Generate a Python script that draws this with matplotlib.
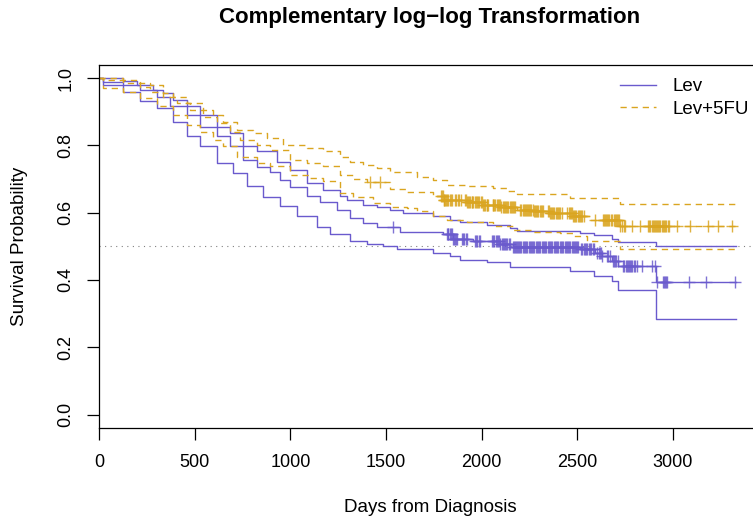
import numpy as np
import matplotlib
matplotlib.use("Agg")
import matplotlib.pyplot as plt

plt.rcParams['font.family'] = ['Liberation Sans', 'DejaVu Sans']

# Kaplan-Meier step points (day, survival after the step), Lev arm
lev_t = [0, 21, 126, 215, 304, 371, 460, 528, 617, 685, 753, 826, 894, 946, 998,
         1087, 1155, 1244, 1312, 1380, 1453, 1573, 1798, 1850, 1954, 2096, 2163,
         2513, 2592, 2628, 2681, 2712, 2911]
lev_s = [1.0, 0.99, 0.98, 0.965, 0.945, 0.916, 0.891, 0.856, 0.827, 0.797, 0.757,
         0.735, 0.722, 0.698, 0.675, 0.650, 0.633, 0.609, 0.585, 0.570, 0.558,
         0.544, 0.537, 0.522, 0.515, 0.508, 0.498, 0.492, 0.480, 0.472, 0.455,
         0.442, 0.393]

lev_up_t = [0, 126, 199, 283, 335, 387, 460, 528, 617, 685, 753, 826, 930, 998,
            1087, 1171, 1260, 1296, 1380, 1453, 1521, 1589, 1746, 1834, 1887, 2028,
            2148, 2184, 2513, 2587, 2681, 2712, 2911]
lev_up_s = [1.0, 0.993, 0.98, 0.965, 0.955, 0.936, 0.916, 0.891, 0.856, 0.837,
            0.797, 0.782, 0.752, 0.728, 0.688, 0.668, 0.650, 0.639, 0.624, 0.618,
            0.609, 0.600, 0.591, 0.579, 0.571, 0.564, 0.554, 0.547, 0.540, 0.533,
            0.523, 0.513, 0.500]

lev_lo_t = [0, 21, 126, 215, 304, 387, 460, 528, 617, 700, 774, 857, 946, 1035,
            1140, 1207, 1312, 1401, 1484, 1557, 1746, 1834, 1887, 2028, 2148, 2461,
            2587, 2681, 2712, 2911]
lev_lo_s = [1.0, 0.98, 0.96, 0.931, 0.911, 0.871, 0.827, 0.797, 0.748, 0.718,
            0.678, 0.648, 0.619, 0.589, 0.559, 0.536, 0.517, 0.508, 0.500, 0.493,
            0.480, 0.470, 0.460, 0.452, 0.440, 0.428, 0.413, 0.396, 0.371, 0.284]

# Lev+5FU arm
fu_t = [0, 21, 126, 215, 267, 335, 408, 476, 544, 617, 685, 737, 826, 894, 998,
        1087, 1171, 1260, 1328, 1401, 1521, 1610, 1746, 1798, 1923, 2007, 2096,
        2184, 2268, 2356, 2477, 2565, 2723]
fu_s = [1.0, 0.995, 0.985, 0.975, 0.96, 0.945, 0.925, 0.906, 0.886, 0.866, 0.841,
        0.817, 0.800, 0.787, 0.757, 0.748, 0.738, 0.713, 0.701, 0.692, 0.671,
        0.662, 0.650, 0.639, 0.631, 0.624, 0.617, 0.609, 0.604, 0.599, 0.591,
        0.579, 0.561]

fu_up_t = [0, 126, 215, 267, 335, 387, 460, 544, 596, 648, 722, 805, 878, 962,
           1087, 1171, 1260, 1312, 1380, 1453, 1521, 1662, 1746, 1819, 1923, 2059,
           2132, 2184, 2461, 2723]
fu_up_s = [1.0, 0.995, 0.985, 0.98, 0.955, 0.945, 0.925, 0.906, 0.891, 0.871,
           0.846, 0.837, 0.822, 0.802, 0.792, 0.782, 0.767, 0.751, 0.743, 0.734,
           0.722, 0.707, 0.698, 0.683, 0.678, 0.673, 0.666, 0.655, 0.644, 0.626]

fu_lo_t = [0, 21, 126, 215, 304, 387, 460, 528, 596, 648, 722, 826, 894, 998,
           1103, 1171, 1260, 1328, 1432, 1521, 1610, 1662, 1746, 1819, 1923, 2059,
           2163, 2268, 2409, 2477, 2550, 2723]
fu_lo_s = [1.0, 0.97, 0.96, 0.94, 0.916, 0.891, 0.861, 0.841, 0.817, 0.797, 0.767,
           0.748, 0.738, 0.713, 0.703, 0.693, 0.660, 0.647, 0.630, 0.618, 0.615,
           0.606, 0.589, 0.579, 0.571, 0.561, 0.549, 0.544, 0.540, 0.530, 0.517,
           0.492]

# censoring times
lev_cens = [1537, 1819, 1823, 1826, 1832, 1838, 1844, 1850, 1856, 1860, 1866, 1871,
            1897, 1904, 1910, 1917, 1923, 1965, 1972, 1978, 1985, 1991, 2054, 2061,
            2067, 2074, 2080, 2088, 2093, 2098, 2104, 2110, 2116, 2122, 2128, 2135,
            2141, 2148, 2163, 2168, 2172, 2178, 2184, 2190, 2196, 2202, 2208, 2214,
            2220, 2226, 2232, 2238, 2245, 2251, 2257, 2264, 2270, 2276, 2282, 2288,
            2295, 2301, 2307, 2313, 2320, 2326, 2332, 2338, 2345, 2351, 2358, 2364,
            2370, 2376, 2383, 2389, 2395, 2401, 2408, 2414, 2420, 2426, 2433, 2439,
            2445, 2451, 2458, 2464, 2470, 2476, 2482, 2488, 2494, 2500, 2506, 2520,
            2527, 2533, 2540, 2546, 2553, 2560, 2566, 2573, 2580, 2586, 2605, 2611,
            2616, 2622, 2628, 2654, 2662, 2670, 2686, 2692, 2698, 2704, 2710, 2740,
            2746, 2752, 2758, 2764, 2770, 2776, 2782, 2788, 2794, 2800, 2811, 2837,
            2890, 2906, 2916, 2948, 2953, 2958, 2963, 2969, 3083, 3172, 3323]
fu_cens = [1416, 1468, 1790, 1794, 1797, 1801, 1805, 1809, 1812, 1819, 1826, 1832,
           1838, 1846, 1862, 1868, 1875, 1882, 1890, 1915, 1920, 1924, 1929, 1933,
           1940, 1948, 1952, 1957, 1963, 1969, 1975, 1981, 1988, 1994, 2003, 2008,
           2012, 2019, 2026, 2030, 2035, 2057, 2061, 2066, 2072, 2078, 2084, 2089,
           2095, 2101, 2109, 2117, 2122, 2128, 2134, 2140, 2146, 2152, 2159, 2166,
           2170, 2175, 2203, 2208, 2214, 2220, 2226, 2232, 2238, 2243, 2247, 2253,
           2259, 2266, 2272, 2278, 2283, 2290, 2296, 2303, 2310, 2314, 2318, 2345,
           2350, 2356, 2362, 2368, 2374, 2380, 2386, 2392, 2398, 2404, 2411, 2418,
           2448, 2455, 2461, 2467, 2472, 2478, 2483, 2489, 2495, 2501, 2507, 2514,
           2520, 2527, 2533, 2592, 2634, 2640, 2645, 2651, 2657, 2662, 2668, 2675,
           2681, 2690, 2696, 2702, 2707, 2712, 2718, 2723, 2735, 2742, 2749, 2785,
           2827, 2870, 2876, 2882, 2888, 2893, 2899, 2905, 2911, 2916, 2922, 2928,
           2934, 2940, 2946, 2952, 2959, 2966, 2973, 2980, 3020, 3088, 3184, 3236,
           3306]

t_end = 3329
blue = "#6A5ACD"
gold = "#DAA520"


def km_step(ax, t, s, **kw):
    tt = list(t) + [t_end]
    ss = list(s) + [s[-1]]
    return ax.step(tt, ss, where="post", **kw)


def surv_at(t, s, times):
    idx = np.searchsorted(t, times, side="right") - 1
    return np.asarray(s)[idx]


fig = plt.figure(figsize=(7.53, 5.23), dpi=100)
ax = fig.add_axes([99 / 753, 95 / 523, 662 / 753, 363.3 / 523])

ax.axhline(0.5, color="gray", lw=0.8, ls=(0, (1, 4)), zorder=1)

km_step(ax, lev_t, lev_s, color=blue, lw=1.0, label="Lev")
km_step(ax, lev_up_t, lev_up_s, color=blue, lw=1.0)
km_step(ax, lev_lo_t, lev_lo_s, color=blue, lw=1.0)
ax.plot(lev_cens, surv_at(lev_t, lev_s, lev_cens), ls="none", marker="+",
        ms=9, mew=1.0, color=blue, alpha=0.85)

dash = (0, (4.5, 3.5))
km_step(ax, fu_t, fu_s, color=gold, lw=1.0, ls=dash, label="Lev+5FU")
km_step(ax, fu_up_t, fu_up_s, color=gold, lw=1.0, ls=dash)
km_step(ax, fu_lo_t, fu_lo_s, color=gold, lw=1.0, ls=dash)
ax.plot(fu_cens, surv_at(fu_t, fu_s, fu_cens), ls="none", marker="+",
        ms=9, mew=1.0, color=gold, alpha=0.85)

ax.set_xlim(0, 3460)
ax.set_ylim(-0.04, 1.04)
ax.set_xticks(np.arange(0, 3001, 500))
ax.set_yticks([0.0, 0.2, 0.4, 0.6, 0.8, 1.0])
ax.set_yticklabels(["0.0", "0.2", "0.4", "0.6", "0.8", "1.0"], rotation=90, va="center")
ax.tick_params(axis="both", labelsize=13, length=8.6, width=0.9, direction="out")
ax.tick_params(axis="x", pad=10)
ax.tick_params(axis="y", pad=9)
for sp in ax.spines.values():
    sp.set_linewidth(0.9)

leg = ax.legend(loc="upper left", bbox_to_anchor=(620 / 753, 1 - 78 / 523),
                bbox_transform=fig.transFigure, frameon=False, fontsize=13.5,
                handlelength=1.9, handletextpad=0.9, labelspacing=0.3,
                borderpad=0, borderaxespad=0)

fig.text(430 / 753, 1 - 18 / 523, "Complementary log\u2212log Transformation",
         ha="center", va="center", fontsize=16, fontweight="bold")
fig.text(430 / 753, 1 - 508 / 523, "Days from Diagnosis", ha="center", va="center",
         fontsize=13.5)
fig.text(20 / 753, 1 - 246 / 523, "Survival Probability", ha="center", va="center",
         rotation=90, fontsize=13.5)

fig.savefig("out.png", dpi=100)
